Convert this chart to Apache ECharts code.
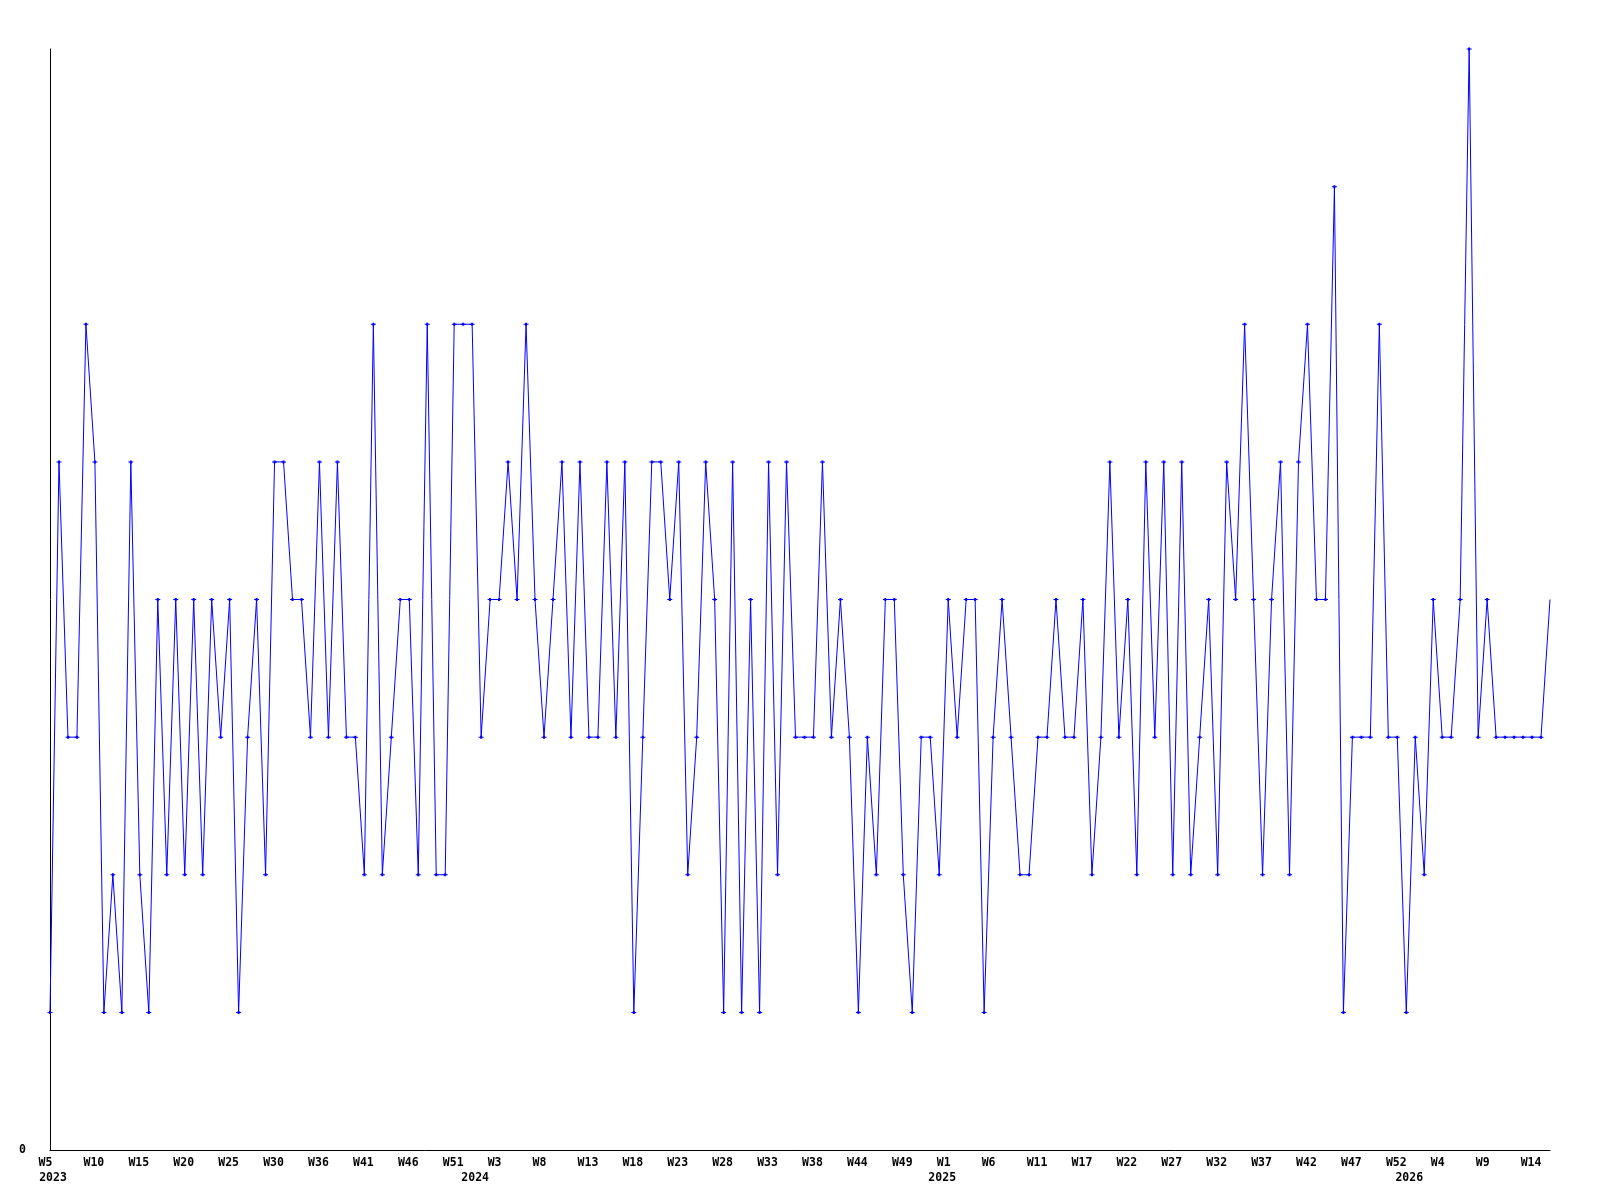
<!DOCTYPE html>
<html>
<head>
<meta charset="utf-8">
<script src="https://cdn.jsdelivr.net/npm/echarts@6/dist/echarts.min.js"></script>
<style>
html,body{margin:0;padding:0;background:#fff;}
#chart{width:1600px;height:1200px;}
</style>
</head>
<body>
<div id="chart"></div>
<script>
// Weekly series: 2023 W5 .. 2026 W16 (168 weeks)
const values = [
  1,5,3,3,6,5,1,2,1,5,2,1,4,2,4,2,4,2,4,3,4,1,3,4,2,5,5,4,4,3,5,3,5,3,3,2,6,2,3,4,4,2,6,2,2,6,6,6,
  3,4,4,5,4,6,4,3,4,5,3,5,3,3,5,3,5,1,3,5,5,4,5,2,3,5,4,1,5,1,4,1,5,2,5,3,3,3,5,3,4,3,1,3,2,4,4,2,1,3,3,2,
  4,3,4,4,1,3,4,3,2,2,3,3,4,3,3,4,2,3,5,3,4,2,5,3,5,2,5,2,3,4,2,5,4,6,4,2,4,5,2,5,6,4,4,7,1,3,3,3,6,3,3,1,
  3,2,4,3,3,4,8,3,4,3,3,3,3,3,3,4
];
const tickLabels = ['W5','W10','W15','W20','W25','W30','W36','W41','W46','W51','W3','W8','W13','W18','W23','W28','W33','W38','W44','W49','W1','W6','W11','W17','W22','W27','W32','W37','W42','W47','W52','W4','W9','W14'];
const yearLabels = ['2023','2024','2025','2026'];
const yearWeeks = [48, 52, 52, 16]; // weeks per year shown (first year starts at W5)
const firstWeek = 5;

// categories
const categories = [];
const yearStartIdx = {};
yearLabels.forEach((y, yi) => {
  const start = yi === 0 ? firstWeek : 1;
  const count = yearWeeks[yi];
  yearStartIdx[categories.length] = y;
  for (let k = 0; k < count; k++) categories.push(y + '-W' + (start + k));
});

const font = {fontFamily: 'DejaVu Sans Mono', fontWeight: 'bold', fontSize: 11.5, color: '#000'};
const plus = 'path://M0 1H5V2H0Z M1.5 0H3.5V3H1.5Z';

const seriesData = values.map((v, i) => i === values.length - 1 ? {value: v, symbol: 'none'} : v);

const chart = echarts.init(document.getElementById('chart'));
chart.setOption({
  animation: false,
  backgroundColor: '#fff',
  grid: {left: 50, right: 50, top: 49, bottom: 50, containLabel: false},
  xAxis: [{
    type: 'category', data: categories, boundaryGap: false,
    axisLine: {show: true, lineStyle: {color: '#000', width: 1}},
    axisTick: {show: false},
    splitLine: {show: false},
    axisLabel: Object.assign({}, font, {
      margin: 7,
      interval: (idx) => idx % 5 === 0,
      formatter: (val, idx) => {
        const t = tickLabels[idx / 5] || '';
        return t.length < 3 ? '{s|' + t + '}' : '{l|' + t + '}';
      },
      rich: {
        s: Object.assign({}, font, {padding: [0, 9, 0, 0]}),
        l: Object.assign({}, font, {padding: [0, 2, 0, 0]})
      }
    })
  }, {
    type: 'category', data: categories, boundaryGap: false, position: 'bottom', offset: 15,
    axisLine: {show: false}, axisTick: {show: false}, splitLine: {show: false},
    axisLabel: Object.assign({}, font, {
      margin: 7,
      interval: (idx) => yearStartIdx[idx] !== undefined,
      formatter: (val, idx) => {
        const y = yearStartIdx[idx] || '';
        return idx === 0 ? '{f|' + y + '}' : '{y|' + y + '}';
      },
      rich: {
        f: Object.assign({}, font, {padding: [0, 0, 0, 6]}),
        y: Object.assign({}, font, {padding: [0, 12, 0, 0]})
      }
    })
  }],
  yAxis: {
    type: 'value', min: 0, max: 8, interval: 8,
    axisLine: {show: true, lineStyle: {color: '#000', width: 1}},
    axisTick: {show: false},
    splitLine: {show: false},
    axisLabel: Object.assign({}, font, {
      margin: 24,
      formatter: (v) => v === 0 ? '0' : ''
    })
  },
  series: [{
    type: 'line', data: seriesData, xAxisIndex: 0,
    lineStyle: {color: '#0000ff', width: 1},
    itemStyle: {color: '#0000ff'},
    symbol: plus, symbolSize: [5, 3], showAllSymbol: true,
    emphasis: {disabled: true}
  }]
});
</script>
</body>
</html>
